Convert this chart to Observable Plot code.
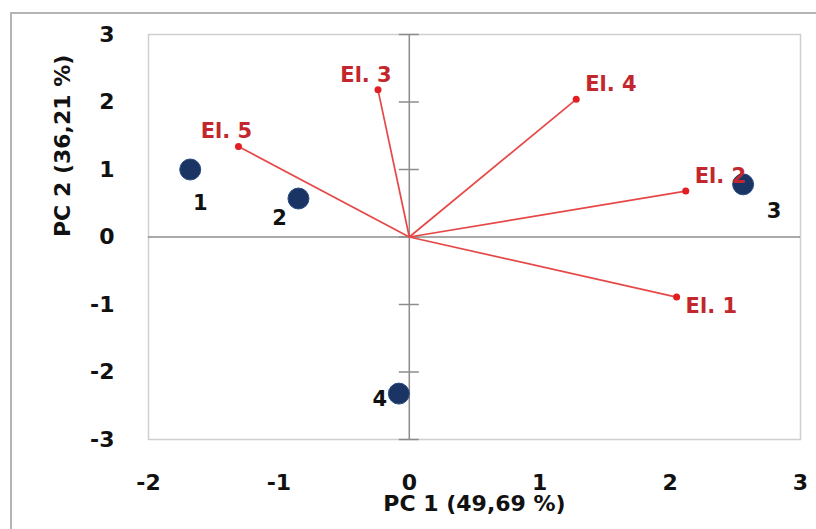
<!DOCTYPE html>
<html>
<head>
<meta charset="utf-8">
<script src="https://cdn.jsdelivr.net/npm/d3@7"></script>
<script src="https://cdn.jsdelivr.net/npm/@observablehq/plot@0.6"></script>
<style>
  html, body { margin: 0; padding: 0; background: #fff; overflow: hidden; }
  #wrap { position: relative; width: 816px; height: 529px; }
  #wrap svg { position: absolute; left: 0; top: 0; }
  #border { position: absolute; left: 10px; top: 12px; width: 900px; height: 600px;
            border: 2px solid #b4b4b4; pointer-events: none; }
</style>
</head>
<body>
<div id="wrap"><div id="border"></div></div>
<script>
// Sample scores
const sampleNames = ["1", "2", "3", "4"];
const sampleX = [-1.68, -0.85, 2.56, -0.08];
const sampleY = [1.00, 0.57, 0.78, -2.32];

// Element loadings
const elementNames = ["El. 1", "El. 2", "El. 3", "El. 4", "El. 5"];
const elementX = [2.05, 2.12, -0.24, 1.28, -1.31];
const elementY = [-0.89, 0.68, 2.18, 2.04, 1.34];

// Axis ticks and titles
const xTicks = [-2, -1, 0, 1, 2, 3];
const yTicks = [-3, -2, -1, 0, 1, 2, 3];
const xTitle = "PC 1 (49,69 %)";
const yTitle = "PC 2 (36,21 %)";

const samples = sampleNames.map((n, i) => ({name: n, x: sampleX[i], y: sampleY[i]}));
const elements = elementNames.map((n, i) => ({name: n, x: elementX[i], y: elementY[i]}));

// label placement (style, not data)
const sampleLabelOffset = {"1": [10, 34], "2": [-19, 20], "3": [31, 27], "4": [-19, 6]};
const elementLabelPlace = {"El. 1": "rb", "El. 2": "ra", "El. 3": "above", "El. 4": "ra", "El. 5": "above"};

const FONT = "DejaVu Sans";
const labelRed = "#c1272d";
const lineRed = "#e64848";
const navy = "#1a3563";

const sampleTextMarks = samples.map(s => Plot.text([s], {
  x: "x", y: "y", text: "name",
  dx: sampleLabelOffset[s.name][0], dy: sampleLabelOffset[s.name][1],
  fill: "#111", fontSize: 21, fontWeight: "bold", fontFamily: FONT
}));

const elText = (place, opts) => Plot.text(elements.filter(e => elementLabelPlace[e.name] === place), {
  x: "x", y: "y", text: "name", fill: labelRed, fontSize: 21, fontWeight: "bold", fontFamily: FONT, ...opts
});

const chart = Plot.plot({
  width: 816,
  height: 529,
  marginLeft: 148,
  marginRight: 16,
  marginTop: 34,
  marginBottom: 90,
  style: {fontFamily: FONT, background: "transparent", overflow: "visible"},
  x: {domain: [-2, 3]},
  y: {domain: [-3, 3]},
  marks: [
    Plot.frame({stroke: "#cfcfcf", strokeWidth: 1.5}),
    Plot.axisX({ticks: xTicks, tickSize: 0, tickPadding: 35, fontSize: 22, fontWeight: "bold",
                fontFamily: FONT, fill: "#111", label: null, tickFormat: d => String(d)}),
    Plot.axisY({ticks: yTicks, tickSize: 0, tickPadding: 34, fontSize: 22, fontWeight: "bold",
                fontFamily: FONT, fill: "#111", label: null, tickFormat: d => String(d)}),
    Plot.ruleX([0], {stroke: "#8c8c8c", strokeWidth: 1.5}),
    Plot.ruleY([0], {stroke: "#8c8c8c", strokeWidth: 1.5}),
    Plot.ruleY(yTicks, {y: d => d, x1: () => 0, x2: () => 0, insetLeft: -10, insetRight: -10,
                        stroke: "#8c8c8c", strokeWidth: 1.5}),
    Plot.dot(samples, {x: "x", y: "y", r: 10.5, fill: navy, stroke: "#2a4a80", strokeWidth: 1}),
    ...sampleTextMarks,
    Plot.link(elements, {x1: () => 0, y1: () => 0, x2: "x", y2: "y", stroke: lineRed, strokeWidth: 1.7}),
    Plot.dot(elements, {x: "x", y: "y", r: 3.5, fill: "#e21e22"}),
    elText("above", {textAnchor: "middle", dx: -12, dy: -15}),
    elText("ra", {textAnchor: "start", dx: 9, dy: -15}),
    elText("rb", {textAnchor: "start", dx: 9, dy: 9}),
    Plot.text([xTitle], {frameAnchor: "bottom", dy: 71, fontSize: 22, fontWeight: "bold", fill: "#111", fontFamily: FONT}),
    Plot.text([yTitle], {frameAnchor: "left", dx: -86, rotate: -90, fontSize: 22, fontWeight: "bold", fill: "#111", fontFamily: FONT})
  ]
});

document.getElementById("wrap").prepend(chart);
</script>
</body>
</html>
